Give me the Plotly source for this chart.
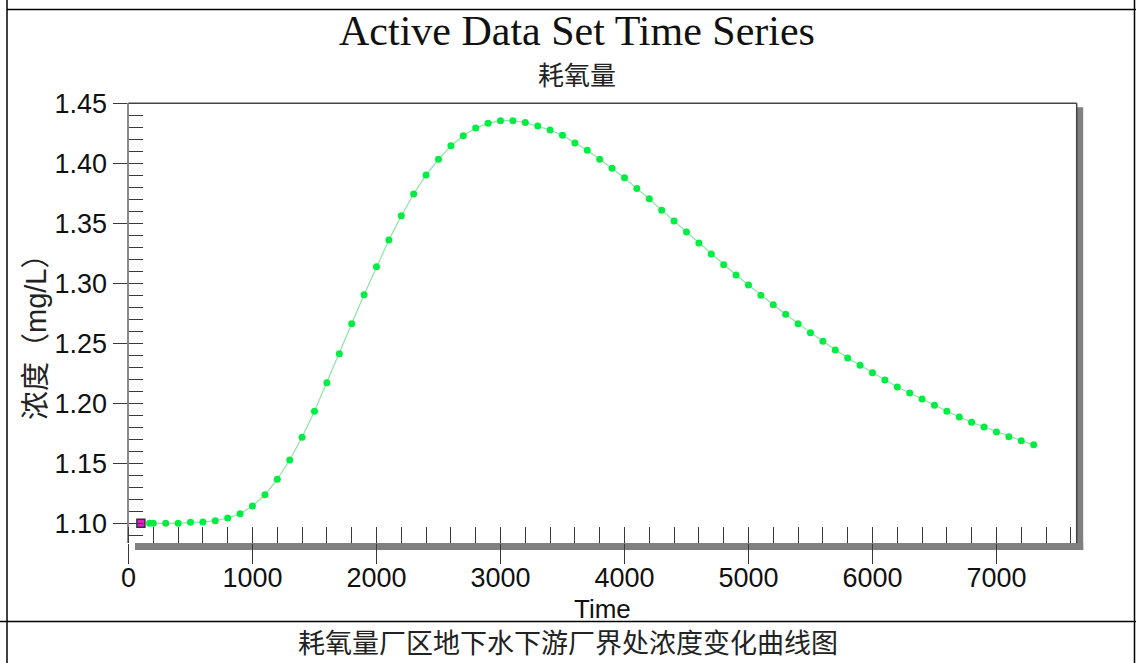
import plotly.graph_objects as go

# ---- data -------------------------------------------------------------
start_time = [100]
start_conc = [1.100]

time = [170, 200, 300, 400, 500, 600, 700, 800, 900, 1000,
        1100, 1200, 1300, 1400, 1500, 1600, 1700, 1800, 1900, 2000,
        2100, 2200, 2300, 2400, 2500, 2600, 2700, 2800, 2900, 3000,
        3100, 3200, 3300, 3400, 3500, 3600, 3700, 3800, 3900, 4000,
        4100, 4200, 4300, 4400, 4500, 4600, 4700, 4800, 4900, 5000,
        5100, 5200, 5300, 5400, 5500, 5600, 5700, 5800, 5900, 6000,
        6100, 6200, 6300, 6400, 6500, 6600, 6700, 6800, 6900, 7000,
        7100, 7200, 7300]
conc = [1.1000, 1.1000, 1.1000, 1.1000, 1.1008, 1.1010, 1.1022, 1.1044, 1.1080, 1.1144,
        1.1238, 1.1367, 1.1528, 1.1717, 1.1933, 1.2172, 1.2413, 1.2663, 1.2905, 1.3138,
        1.3360, 1.3563, 1.3744, 1.3903, 1.4033, 1.4147, 1.4230, 1.4294, 1.4333, 1.4355,
        1.4355, 1.4339, 1.4311, 1.4278, 1.4233, 1.4169, 1.4108, 1.4033, 1.3958, 1.3880,
        1.3789, 1.3705, 1.3608, 1.3519, 1.3428, 1.3336, 1.3244, 1.3155, 1.3069, 1.2986,
        1.2900, 1.2822, 1.2742, 1.2663, 1.2589, 1.2517, 1.2444, 1.2378, 1.2317, 1.2255,
        1.2194, 1.2136, 1.2086, 1.2036, 1.1983, 1.1933, 1.1886, 1.1842, 1.1803, 1.1761,
        1.1722, 1.1689, 1.1655]

x_major = [0, 1000, 2000, 3000, 4000, 5000, 6000, 7000]
x_labels = ["0", "1000", "2000", "3000", "4000", "5000", "6000", "7000"]
y_major = [1.10, 1.15, 1.20, 1.25, 1.30, 1.35, 1.40, 1.45]
y_labels = ["1.10", "1.15", "1.20", "1.25", "1.30", "1.35", "1.40", "1.45"]

title = "Active Data Set Time Series"
subtitle = "耗氧量"
x_title = "Time"
y_title = "浓度（mg/L）"
caption = "耗氧量厂区地下水下游厂界处浓度变化曲线图"

# ---- page geometry (pixels) --------------------------------------------
W, H = 1136, 663
PL, PR, PT, PB = 128.5, 1076.7, 103.3, 543.0
X_RANGE = [0, 7647]
Y_RANGE = [1.0836, 1.45]


def px(x):
    return x / W


def py(y):
    return 1 - y / H


SANS = "Liberation Sans, Arial, sans-serif"
CJK = "Liberation Sans, Noto Sans CJK SC, sans-serif"
TICK_COLOR = "#3a3a3a"

fig = go.Figure()

fig.add_trace(go.Scatter(
    x=time, y=conc, mode="lines+markers",
    line=dict(color="#8ae6a4", width=1.2),
    marker=dict(color="#00ee44", size=7, line=dict(width=0)),
    showlegend=False, hoverinfo="x+y",
))
fig.add_trace(go.Scatter(
    x=start_time, y=start_conc, mode="markers",
    marker=dict(symbol="square", color="#e020c8", size=8,
                line=dict(color="#333333", width=1.5)),
    showlegend=False, hoverinfo="x+y",
))

tick_font = dict(family=SANS, size=27, color="#111111")

fig.update_layout(
    width=W, height=H,
    margin=dict(l=0, r=0, t=0, b=0),
    paper_bgcolor="white", plot_bgcolor="white",
    xaxis=dict(
        domain=[px(PL), px(PR)], range=X_RANGE, anchor="y",
        tickmode="array", tickvals=x_major, ticktext=x_labels,
        ticks="outside", ticklen=20, tickwidth=1.2, tickcolor=TICK_COLOR,
        ticklabelstandoff=-9,
        minor=dict(dtick=200, tick0=0, ticks="inside", ticklen=16,
                   tickwidth=1.2, tickcolor=TICK_COLOR, showgrid=False),
        tickfont=tick_font, showgrid=False, zeroline=False, showline=False,
        automargin=False,
    ),
    xaxis2=dict(
        domain=[px(PL), px(PR)], range=X_RANGE, anchor="y", overlaying="x",
        tickmode="array", tickvals=x_major, showticklabels=False,
        ticks="inside", ticklen=16, tickwidth=1.2, tickcolor=TICK_COLOR,
        showgrid=False, zeroline=False, showline=False, automargin=False,
    ),
    yaxis=dict(
        domain=[py(PB), py(PT)], range=Y_RANGE, anchor="x",
        tickmode="array", tickvals=y_major, ticktext=y_labels,
        ticks="outside", ticklen=14, tickwidth=1.2, tickcolor=TICK_COLOR,
        minor=dict(dtick=0.01, tick0=1.10, ticks="inside", ticklen=14,
                   tickwidth=1.2, tickcolor=TICK_COLOR, showgrid=False),
        tickfont=tick_font, showgrid=False, zeroline=False,
        showline=True, linecolor="#8a8a8a", linewidth=2,
        automargin=False,
    ),
    yaxis2=dict(
        domain=[py(PB), py(PT)], range=Y_RANGE, anchor="x", overlaying="y",
        tickmode="array", tickvals=y_major, showticklabels=False,
        ticks="inside", ticklen=14, tickwidth=1.2, tickcolor=TICK_COLOR,
        showgrid=False, zeroline=False, showline=False, automargin=False,
    ),
)

# drop shadow behind the plot frame, then frame edges
shapes = [
    dict(type="rect", xref="paper", yref="paper", layer="below",
         x0=px(PR), x1=px(PR + 6.5), y0=py(PB + 7), y1=py(PT + 4),
         fillcolor="#808080", line=dict(width=0)),
    dict(type="rect", xref="paper", yref="paper", layer="below",
         x0=px(PL + 6.5), x1=px(PR + 6.5), y0=py(PB + 7), y1=py(PB),
         fillcolor="#808080", line=dict(width=0)),
    dict(type="line", xref="paper", yref="paper",
         x0=px(PL), x1=px(PR), y0=py(PT), y1=py(PT),
         line=dict(color="#444444", width=1.5)),
    dict(type="line", xref="paper", yref="paper",
         x0=px(PR), x1=px(PR), y0=py(PT), y1=py(PB),
         line=dict(color="#444444", width=1.5)),
    # page table rules
    dict(type="line", xref="paper", yref="paper",
         x0=px(7), x1=px(7), y0=0, y1=1, line=dict(color="black", width=1.5)),
    dict(type="line", xref="paper", yref="paper",
         x0=px(1134.5), x1=px(1134.5), y0=0, y1=1, line=dict(color="black", width=1.5)),
    dict(type="line", xref="paper", yref="paper",
         x0=px(7), x1=1, y0=py(9.5), y1=py(9.5), line=dict(color="black", width=1.5)),
    dict(type="line", xref="paper", yref="paper",
         x0=0, x1=1, y0=py(621.5), y1=py(621.5), line=dict(color="black", width=1.5)),
]
fig.update_layout(shapes=shapes)

annotations = [
    dict(text=title, x=px(577), y=py(31), font=dict(family="Liberation Serif, Times New Roman, serif", size=42, color="#111111")),
    dict(text=subtitle, x=px(577), y=py(73), font=dict(family="Noto Sans CJK SC, sans-serif", size=26, color="#222222")),
    dict(text=x_title, x=px(602.6), y=py(609), font=dict(family=SANS, size=26, color="#111111")),
    dict(text=y_title, x=px(36), y=py(330), textangle=-90, font=dict(family=CJK, size=29, color="#222222")),
    dict(text=caption, x=px(568), y=py(641), font=dict(family="Noto Sans CJK SC, sans-serif", size=27, color="#222222")),
]
for a in annotations:
    a.update(xref="paper", yref="paper", showarrow=False, xanchor="center", yanchor="middle")
fig.update_layout(annotations=annotations)

fig.write_html("out.html")
